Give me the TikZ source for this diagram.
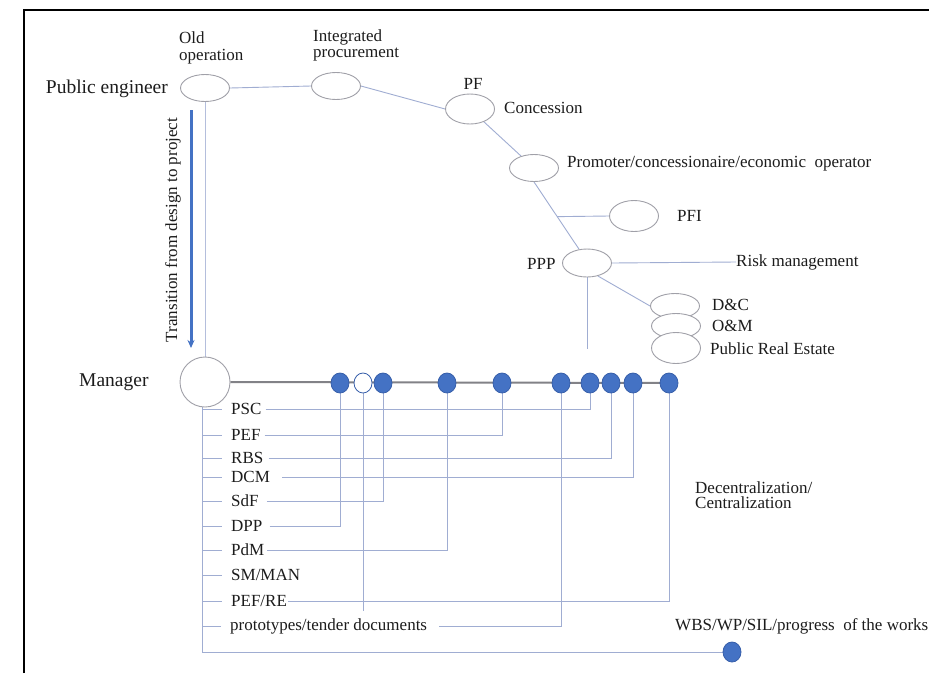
\documentclass[tikz,border=0pt]{standalone}
\usepackage{fontspec}
\setmainfont{Liberation Serif}
\usetikzlibrary{shapes.geometric,arrows.meta}
\definecolor{conn}{RGB}{160,173,210}
\definecolor{conl}{RGB}{180,190,220}
\definecolor{ell}{RGB}{160,160,168}
\definecolor{dotfill}{RGB}{68,114,196}
\definecolor{dotdraw}{RGB}{55,95,170}
\definecolor{mline}{RGB}{130,130,135}
\definecolor{txt}{RGB}{28,28,28}
\pgfdeclarelayer{bg}
\pgfsetlayers{bg,main}
\begin{document}
\begin{tikzpicture}[x=1pt,y=-1pt,
  every node/.style={inner sep=0pt, text=txt, font=\fontsize{17}{17}\selectfont},
  lbl/.style={anchor=west},
  big/.style={anchor=west,font=\fontsize{19.5}{20}\selectfont},
  ov/.style={ellipse, draw=ell, fill=white, line width=0.9pt, minimum width=49pt, minimum height=27pt},
  bdot/.style={ellipse, draw=dotdraw, fill=dotfill, line width=0.8pt, minimum width=18pt, minimum height=20pt},
  odot/.style={bdot, fill=white},
  cn/.style={draw=conn, line width=0.9pt},
]
\useasboundingbox (0,0) rectangle (929,673);
\begin{pgfonlayer}{bg}
\fill[white] (0,0) rectangle (929,673);
\end{pgfonlayer}
\draw[line width=2.2pt, black] (24,673) -- (24,10) -- (929,10);

% top chain
\node[ov] (oldop) at (205,88) {};
\node[ov] (integ) at (336,86) {};
\node[ov, minimum height=30pt] (pf) at (470,109) {};
\node[ov] (prom) at (534,168) {};
\node[ov, minimum height=31pt] (pfi) at (634,216) {};
\node[ov, minimum height=28pt] (ppp) at (587,263) {};
\node[ov, minimum height=25pt] (dc) at (675,306) {};
\node[ov, minimum height=25pt] (om) at (676,326) {};
\node[ov, minimum height=31pt] (pre) at (676,348) {};

\node[lbl, align=left] (toldop) at (179,48) {Old\\operation};
\node[big, anchor=east] (tpe) at (168,89) {Public engineer};
\node[lbl, align=left, font=\fontsize{17}{16}\selectfont] (tinteg) at (313,45) {Integrated\\procurement};
\node (tpf) at (473,84) {PF};
\node[lbl] (tcon) at (504,108) {Concession};
\node[lbl] (tprom) at (567,164) {Promoter/concessionaire/economic\ \ operator};
\node[lbl] (tpfi) at (677,216) {PFI};
\node[lbl] (tppp) at (527,264) {PPP};
\node[lbl] (trisk) at (736,262) {Risk management};
\node[lbl] (tdc) at (712,305) {D\&C};
\node[lbl] (tom) at (712,326) {O\&M};
\node[lbl] (tpre) at (710,349) {Public Real Estate};

\coordinate (pppend) at (587,349);

% manager
\node[circle, draw=ell, fill=white, line width=0.9pt, minimum size=50pt] (mgr) at (205,382) {};
\node[big] (tmgr) at (79,382) {Manager};
\coordinate (aS) at (191,110);
\coordinate (aE) at (191,348);
\draw[dotfill, line width=3pt, -{Stealth[length=8pt,width=7pt]}] (aS) -- (aE);
\node[rotate=90] (ttr) at (173,230) {Transition from design to project};

% dots
\node[bdot] (d1) at (340,383) {};
\node[odot] (o2) at (363,383) {};
\node[bdot] (d3) at (383,383) {};
\node[bdot] (d4) at (447,383) {};
\node[bdot] (d5) at (502,383) {};
\node[bdot] (d6) at (561,383) {};
\node[bdot] (d7) at (590,383) {};
\node[bdot] (d8) at (611,383) {};
\node[bdot] (d9) at (633,383) {};
\node[bdot] (d10) at (669,383) {};
\node[bdot] (wbs) at (732,652) {};
\coordinate (oend) at (363,611);

% labels
\node[lbl] (psc) at (231,409) {PSC};
\node[lbl] (pef) at (231,435) {PEF};
\node[lbl] (rbs) at (231,458) {RBS};
\node[lbl] (dcm) at (231,477) {DCM};
\node[lbl] (sdf) at (231,501) {SdF};
\node[lbl] (dpp) at (231,526) {DPP};
\node[lbl] (pdm) at (231,550) {PdM};
\node[lbl] (smman) at (231,575) {SM/MAN};
\node[lbl] (pefre) at (231,601) {PEF/RE};
\node[lbl] (proto) at (230,626) {prototypes/tender documents};
\node[lbl, align=left, font=\fontsize{17}{15.6}\selectfont] (tdec) at (695,495) {Decentralization/\\Centralization};
\node[lbl] (twbs) at (675,626) {WBS/WP/SIL/progress\ \ of the works};

\begin{pgfonlayer}{bg}
\draw[cn] (oldop.east) -- (integ.west);
\draw[cn] (integ.east) -- (pf.west);
\draw[cn] (pf) -- (prom);
\draw[cn] (prom.south) -- coordinate[pos=0.515] (br) (ppp.120);
\draw[cn] (br) -- (pfi.west);
\draw[cn] (ppp.east) -- (trisk.west);
\draw[cn] (ppp.-50) -- (dc.west);
\draw[cn] (ppp.south) -- (pppend);
\draw[draw=conl, line width=0.9pt] (oldop.south) -- (mgr.north);
\draw[mline, line width=2pt] (mgr.east) -- (d10.center);
\draw[cn] ([xshift=-3pt]mgr.south) -- ([xshift=-3pt]mgr.south |- wbs.west) -- (wbs.west);
\foreach \n in {psc,pef,rbs,dcm,sdf,dpp,pdm,smman,pefre,proto}
  \draw[cn] ([xshift=-9.5pt]\n.west) -- ([xshift=-3pt]mgr.south |- \n.west);
\draw[cn] ([xshift=4pt]psc.east) -| (d7.south);
\draw[cn] ([xshift=4pt]pef.east) -| (d5.south);
\draw[cn] ([xshift=5pt]rbs.east) -| (d8.south);
\draw[cn] ([xshift=12pt]dcm.east) -| (d9.south);
\draw[cn] ([xshift=8pt]sdf.east) -| (d3.south);
\draw[cn] ([xshift=7pt]dpp.east) -| (d1.south);
\draw[cn] ([xshift=3pt]pdm.east) -| (d4.south);
\draw[cn] ([xshift=1pt]pefre.east) -| (d10.south);
\draw[cn] ([xshift=12pt]proto.east) -| (d6.south);
\draw[cn] (o2.south) -- (oend);
\end{pgfonlayer}
\end{tikzpicture}
\end{document}
